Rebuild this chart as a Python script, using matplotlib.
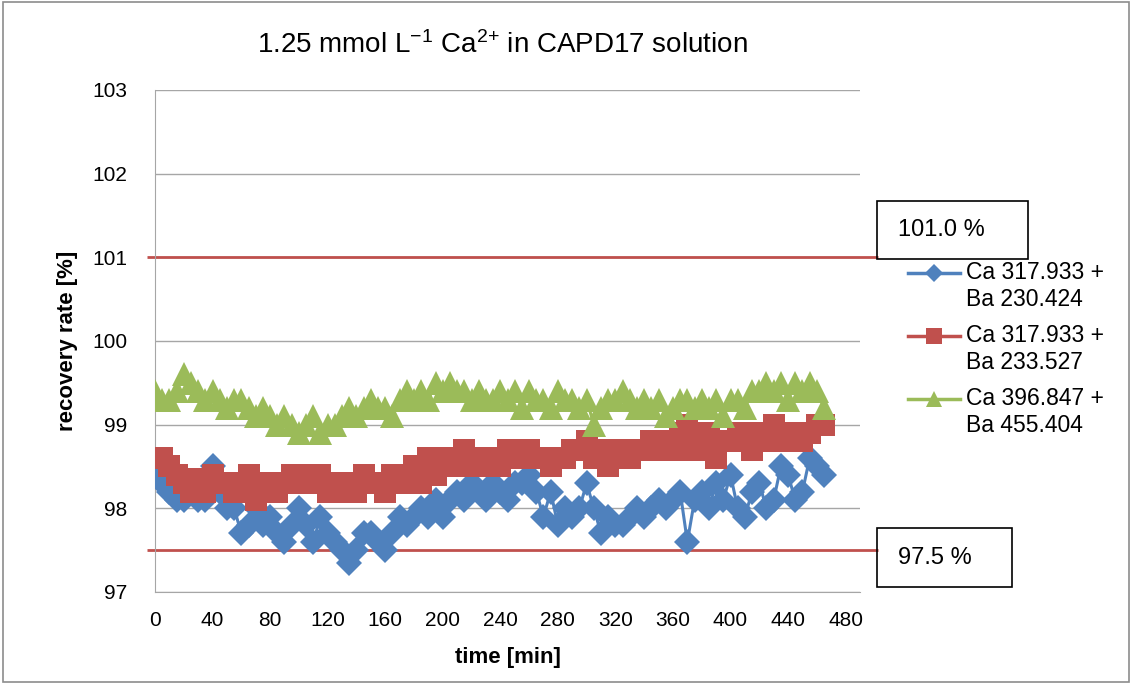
import matplotlib
matplotlib.use("Agg")
import matplotlib.pyplot as plt
from matplotlib.lines import Line2D
from matplotlib.patches import Rectangle

plt.rcParams["font.family"] = ["Liberation Sans", "DejaVu Sans"]
plt.rcParams["mathtext.default"] = "regular"

# sampling times [min]
time_min = [
    0, 5, 10, 15, 20, 25, 30, 35, 40, 45,
    50, 55, 60, 65, 70, 75, 80, 85, 90, 95,
    100, 105, 110, 115, 120, 125, 130, 135, 140, 145,
    150, 155, 160, 165, 170, 175, 180, 185, 190, 195,
    200, 205, 210, 215, 220, 225, 230, 235, 240, 245,
    250, 255, 260, 265, 270, 275, 280, 285, 290, 295,
    300, 305, 310, 315, 320, 325, 330, 335, 340, 345,
    350, 355, 360, 365, 370, 375, 380, 385, 390, 395,
    400, 405, 410, 415, 420, 425, 430, 435, 440, 445,
    450, 455, 460, 465,
]

ca317_ba230 = [
    98.5, 98.3, 98.2, 98.1, 98.1, 98.2, 98.1, 98.1, 98.5, 98.2,
    98.0, 98.0, 97.7, 97.8, 98.0, 97.8, 97.9, 97.7, 97.6, 97.8,
    98.0, 97.8, 97.6, 97.9, 97.7, 97.6, 97.5, 97.35, 97.5, 97.7,
    97.7, 97.6, 97.5, 97.7, 97.9, 97.8, 97.9, 98.0, 97.9, 98.1,
    97.9, 98.1, 98.2, 98.1, 98.3, 98.2, 98.1, 98.3, 98.2, 98.1,
    98.3, 98.3, 98.4, 98.2, 97.9, 98.2, 97.8, 98.0, 97.9, 98.0,
    98.3, 98.0, 97.7, 97.9, 97.8, 97.8, 97.9, 98.0, 97.9, 98.0,
    98.1, 98.0, 98.1, 98.2, 97.6, 98.1, 98.2, 98.0, 98.3, 98.1,
    98.4, 98.0, 97.9, 98.2, 98.3, 98.0, 98.1, 98.5, 98.4, 98.1,
    98.2, 98.6, 98.5, 98.4,
]

ca317_ba233 = [
    98.6, 98.6, 98.5, 98.4, 98.3, 98.2, 98.35, 98.2, 98.4, 98.3,
    98.3, 98.2, 98.3, 98.4, 98.1, 98.3, 98.3, 98.2, 98.3, 98.4,
    98.3, 98.4, 98.3, 98.4, 98.2, 98.3, 98.2, 98.3, 98.2, 98.4,
    98.3, 98.3, 98.2, 98.4, 98.3, 98.4, 98.5, 98.3, 98.6, 98.4,
    98.5, 98.6, 98.5, 98.7, 98.6, 98.5, 98.6, 98.6, 98.5, 98.7,
    98.6, 98.6, 98.7, 98.6, 98.6, 98.5, 98.6, 98.6, 98.7, 98.7,
    98.8, 98.6, 98.7, 98.5, 98.6, 98.7, 98.6, 98.7, 98.7, 98.8,
    98.7, 98.8, 98.7, 98.9, 99.0, 98.7, 98.8, 98.9, 98.6, 98.8,
    98.8, 98.9, 98.8, 98.7, 98.9, 98.8, 99.0, 98.9, 98.8, 98.9,
    98.8, 98.9, 99.0, 99.0,
]

ca396_ba455 = [
    99.4, 99.3, 99.3, 99.4, 99.6, 99.5, 99.4, 99.3, 99.4, 99.3,
    99.2, 99.3, 99.3, 99.2, 99.1, 99.2, 99.1, 99.0, 99.1, 99.0,
    98.9, 99.0, 99.1, 98.9, 99.0, 99.0, 99.1, 99.2, 99.1, 99.2,
    99.3, 99.2, 99.2, 99.1, 99.3, 99.4, 99.3, 99.4, 99.3, 99.5,
    99.4, 99.5, 99.4, 99.4, 99.3, 99.4, 99.3, 99.3, 99.4, 99.3,
    99.4, 99.2, 99.4, 99.3, 99.3, 99.2, 99.4, 99.3, 99.3, 99.2,
    99.3, 99.0, 99.2, 99.3, 99.3, 99.4, 99.3, 99.2, 99.3, 99.2,
    99.3, 99.1, 99.2, 99.3, 99.3, 99.2, 99.3, 99.2, 99.3, 99.1,
    99.3, 99.3, 99.2, 99.4, 99.4, 99.5, 99.4, 99.5, 99.3, 99.5,
    99.4, 99.5, 99.4, 99.2,
]

series_labels = ["Ca 317.933 +\nBa 230.424", "Ca 317.933 +\nBa 233.527", "Ca 396.847 +\nBa 455.404"]
limits = [101.0, 97.5]
limit_labels = ["101.0 %", "97.5 %"]
x_ticks = [0, 40, 80, 120, 160, 200, 240, 280, 320, 360, 400, 440, 480]
y_ticks = [97, 98, 99, 100, 101, 102, 103]

colors = ["#4F81BD", "#C0504D", "#9BBB59"]
markers = ["D", "s", "^"]
sizes = [13, 16, 17]
W, H = 1132, 684

fig = plt.figure(figsize=(W / 100, H / 100), dpi=100)
fig.add_artist(Rectangle((0.003, 0.003), 0.994, 0.994, transform=fig.transFigure,
                         fill=False, edgecolor="#8C8C8C", linewidth=1.2))
ax = fig.add_axes([155 / W, 1 - 592 / H, 705 / W, 502 / H])

all_series = [ca317_ba230, ca317_ba233, ca396_ba455]
for i, values in enumerate(all_series):
    ax.plot(time_min, values, color=colors[i], marker=markers[i], markersize=sizes[i],
            linewidth=2.2, markeredgewidth=0, zorder=3 + i)

ax.set_xlim(0, 490)
ax.set_ylim(97, 103)
ax.set_xticks(x_ticks)
ax.set_yticks(y_ticks)
ax.tick_params(axis="y", length=0, labelsize=15, pad=20)
ax.tick_params(axis="x", length=0, labelsize=15, pad=14)
ax.grid(axis="y", color="#A6A6A6", linewidth=1)
ax.set_axisbelow(True)
for side in ["top", "right"]:
    ax.spines[side].set_visible(False)
ax.spines["left"].set_color("#A6A6A6")
ax.spines["bottom"].set_color("#A6A6A6")

ax.set_xlabel("time [min]", fontsize=16, fontweight="bold", labelpad=12)
ax.set_ylabel("recovery rate [%]", fontsize=16, fontweight="bold", labelpad=10)

# limit lines reach a bit past the plot area up to the label boxes
ax.hlines(limits, -0.012, 1.025, transform=ax.get_yaxis_transform(), clip_on=False,
          color="#C0504D", linewidth=2, zorder=2)

boxes = [(877, 201, 151, 58), (877, 528, 135, 59)]
for (bx, by, bw, bh), label in zip(boxes, limit_labels):
    fig.add_artist(Rectangle((bx / W, 1 - (by + bh) / H), bw / W, bh / H,
                             transform=fig.transFigure, fill=False,
                             edgecolor="black", linewidth=1.2))
    fig.text((bx + 21) / W, 1 - (by + bh / 2) / H, label, fontsize=17,
             ha="left", va="center")

# legend drawn by hand so the marker sits on the first text line
for i, label in enumerate(series_labels):
    ly = 273 + i * 63
    fig.add_artist(Line2D([908 / W, 960 / W], [1 - ly / H, 1 - ly / H],
                          transform=fig.transFigure, color=colors[i], linewidth=2.5))
    fig.add_artist(Line2D([934 / W], [1 - ly / H], transform=fig.transFigure,
                          color=colors[i], marker=markers[i], markersize=sizes[i] * 0.7,
                          markeredgewidth=0))
    fig.text(966 / W, 1 - (ly - 12) / H, label, fontsize=16.5, ha="left", va="top",
             linespacing=1.25)

fig.text(502 / W, 1 - 45 / H, r"1.25 mmol L$^{-1}$ Ca$^{2{+}}$ in CAPD17 solution",
         fontsize=20, ha="center", va="center")

fig.savefig("out.png", dpi=100)
